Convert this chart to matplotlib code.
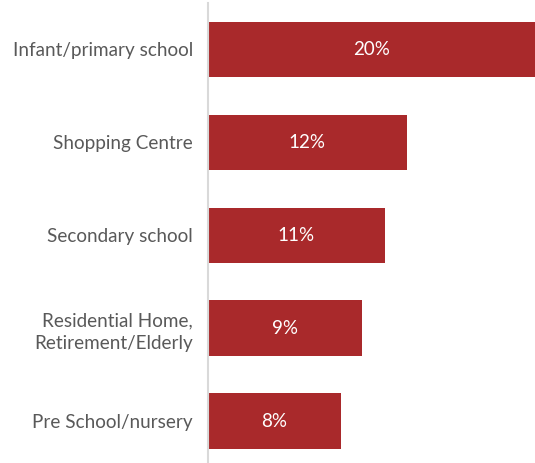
import matplotlib
matplotlib.use("Agg")
import matplotlib.pyplot as plt

categories = ["Infant/primary school", "Shopping Centre", "Secondary school",
              "Residential Home,\nRetirement/Elderly", "Pre School/nursery"]
values = [19.7, 12.0, 10.7, 9.3, 8.0]
labels = ["20%", "12%", "11%", "9%", "8%"]

bar_color = "#A9292B"
text_color = "#595959"

plt.rcParams["font.family"] = ["Lato", "DejaVu Sans"]

fig = plt.figure(figsize=(5.35, 4.63), dpi=100)
ax = fig.add_axes([0.388, -0.0104, 0.612, 1.0039])

ypos = list(range(len(categories)))
bars = ax.barh(ypos, values, height=0.6, color=bar_color)

for b, lab in zip(bars, labels):
    ax.text(b.get_width() / 2, b.get_y() + b.get_height() / 2, lab,
            ha="center", va="center", color="white", fontsize=13.5)

ax.set_yticks(ypos)
ax.set_yticklabels(categories, fontsize=13.6, color=text_color, ha="right",
                   linespacing=1.4)
ax.tick_params(axis="y", length=0, pad=10.5)
ax.set_xticks([])
ax.set_xlim(0, 19.7)
ax.set_ylim(len(categories) - 0.5, -0.5)

for s in ["top", "right", "bottom"]:
    ax.spines[s].set_visible(False)
ax.spines["left"].set_color("#D9D9D9")
ax.spines["left"].set_linewidth(1.5)

fig.savefig("out.png", dpi=100)
